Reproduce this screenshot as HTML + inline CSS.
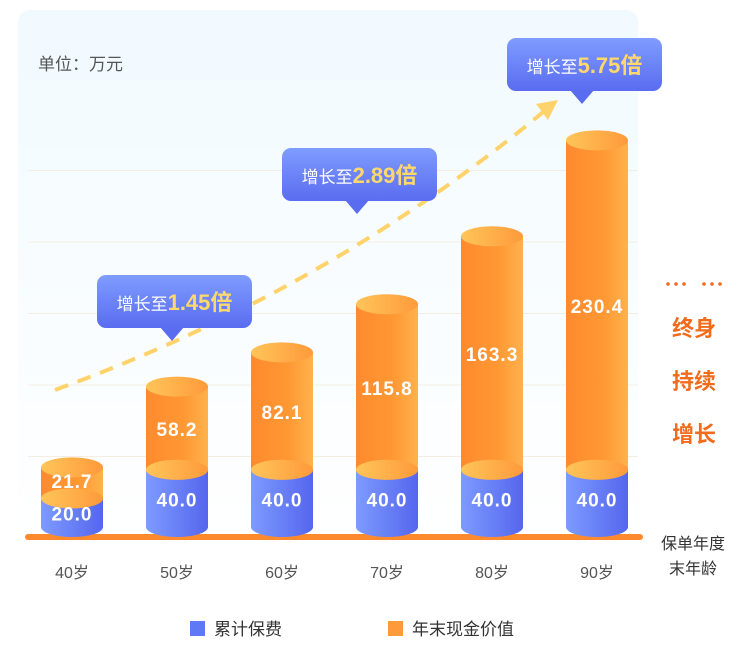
<!DOCTYPE html>
<html><head><meta charset="utf-8"><style>
body{margin:0;background:#fff;font-family:"Liberation Sans","Noto Sans CJK SC",sans-serif}
svg text{font-family:"Liberation Sans","Noto Sans CJK SC",sans-serif}
</style></head><body>
<svg id="c" width="753" height="660">
<defs>
<linearGradient id="bg" x1="0" y1="0" x2="0" y2="1"><stop offset="0" stop-color="#f1faff"/><stop offset="1" stop-color="#fff"/></linearGradient>
<linearGradient id="blue" x1="0" x2="1"><stop offset="0" stop-color="#7d9bff"/><stop offset="1" stop-color="#5566ee"/></linearGradient>
<linearGradient id="org" x1="0" x2="1"><stop offset="0" stop-color="#ff8a2e"/><stop offset="0.6" stop-color="#ff9833"/><stop offset="1" stop-color="#ffb24d"/></linearGradient>
<linearGradient id="otop" x1="0" x2="1"><stop offset="0" stop-color="#ffc55a"/><stop offset="1" stop-color="#ff9a3a"/></linearGradient>
<linearGradient id="tip" x1="0" y1="0" x2="0" y2="1"><stop offset="0" stop-color="#7f9cff"/><stop offset="1" stop-color="#5a6cf0"/></linearGradient>
</defs>
<rect x="18" y="10" width="620" height="530" rx="12" fill="url(#bg)"/>
<g id="grid"></g>
<text x="38" y="70" font-size="17" fill="#555">单位：万元</text>
<line x1="28" y1="537" x2="640" y2="537" stroke="#ff8a2e" stroke-width="6" stroke-linecap="round"/>
<path d="M55,390 Q330,290 548,108" fill="none" stroke="#ffd36b" stroke-width="4" stroke-dasharray="14,10"/>
<polygon points="558,100 536,104 548,120" fill="#ffd36b"/>
<g id="bars"></g>
<g id="tips"></g>
<g fill="#f26b1d">
<circle cx="668" cy="284" r="1.8"/><circle cx="676" cy="284" r="1.8"/><circle cx="684" cy="284" r="1.8"/>
<circle cx="704" cy="284" r="1.8"/><circle cx="712" cy="284" r="1.8"/><circle cx="720" cy="284" r="1.8"/>
</g>
<text x="694" y="336" font-size="22" font-weight="bold" fill="#f26b1d" text-anchor="middle">终身</text>
<text x="694" y="389" font-size="22" font-weight="bold" fill="#f26b1d" text-anchor="middle">持续</text>
<text x="694" y="442" font-size="22" font-weight="bold" fill="#f26b1d" text-anchor="middle">增长</text>
<text x="693" y="549" font-size="16" fill="#333" text-anchor="middle">保单年度</text>
<text x="693" y="574" font-size="16" fill="#333" text-anchor="middle">末年龄</text>
<rect x="190" y="621" width="15" height="15" fill="#5f78f5"/>
<text x="214" y="635" font-size="17" fill="#333">累计保费</text>
<rect x="388" y="621" width="15" height="15" fill="#ff9a3a"/>
<text x="412" y="635" font-size="17" fill="#333">年末现金价值</text>
</svg>
<script>
const categories=["40岁","50岁","60岁","70岁","80岁","90岁"];
const premium=[20.0,40.0,40.0,40.0,40.0,40.0];
const cashValue=[21.7,58.2,82.1,115.8,163.3,230.4];
const multiples=["1.45","2.89","5.75"];
const multipleAt=[1,3,5];
const gridTicks=[50,100,150,200,250];
const NS="http://www.w3.org/2000/svg";
const base=527, k=1.43, bw=62;
const xc=i=>72+i*105;
const y=v=>base-v*k;
function mk(t,a,p){const e=document.createElementNS(NS,t);for(const n in a)e.setAttribute(n,a[n]);p.appendChild(e);return e;}
const grid=document.getElementById('grid');
gridTicks.forEach(v=>{const l=mk('line',{x1:28,x2:638,y1:y(v)+1,y2:y(v)+1,stroke:'#f5eee0','stroke-width':1},grid);

});
const bars=document.getElementById('bars');
categories.forEach((c,i)=>{
 const x=xc(i), l=x-bw/2, ry=10;
 const yb=y(premium[i]), yt=y(premium[i]+cashValue[i]);
 const g=mk('g',{},bars);
 
 
 mk('path',{d:`M${l},${yb} L${l},${base} A${bw/2},${ry} 0 0 0 ${l+bw},${base} L${l+bw},${yb} Z`,fill:'url(#blue)'},g);
 mk('path',{d:`M${l},${yt} L${l},${yb} A${bw/2},${ry} 0 0 0 ${l+bw},${yb} L${l+bw},${yt} Z`,fill:'url(#org)'},g);
 mk('ellipse',{cx:x,cy:yb,rx:bw/2,ry:ry,fill:'url(#otop)'},g);
 mk('ellipse',{cx:x,cy:yt,rx:bw/2,ry:ry,fill:'url(#otop)'},g);
 const t1=mk('text',{x:x,y:(yb+base)/2+8,'font-size':19,'font-weight':'bold',fill:'#fff','text-anchor':'middle','letter-spacing':1},g);
 t1.textContent=premium[i].toFixed(1);
 
 const t2=mk('text',{x:x,y:(yt+yb)/2+(i==0?5:8),'font-size':19,'font-weight':'bold',fill:'#fff','text-anchor':'middle','letter-spacing':1},g);
 t2.textContent=cashValue[i].toFixed(1);
 
 const t3=mk('text',{x:x,y:578,'font-size':16,fill:'#555','text-anchor':'middle'},bars);
 t3.textContent=c;
 
 
});
const tips=document.getElementById('tips');
const tipPos=[[97,275],[282,148],[507,38]];
multiples.forEach((m,j)=>{
 const [tx,ty]=tipPos[j], w=155,h=53, px=tx+75;
 const g=mk('g',{},tips);
 
 
 mk('rect',{x:tx,y:ty,width:w,height:h,rx:9,fill:'url(#tip)'},g);
 mk('polygon',{points:`${px-12},${ty+h-1} ${px+12},${ty+h-1} ${px},${ty+h+13}`,fill:'#5a6cf0'},g);
 const t=mk('text',{x:tx+w/2,y:ty+35,'font-size':17,fill:'#fff','text-anchor':'middle'},g);
 t.innerHTML='增长至<tspan font-size="22" font-weight="bold" fill="#ffd86b">'+m+'倍</tspan>';
});
</script>
</body></html>
